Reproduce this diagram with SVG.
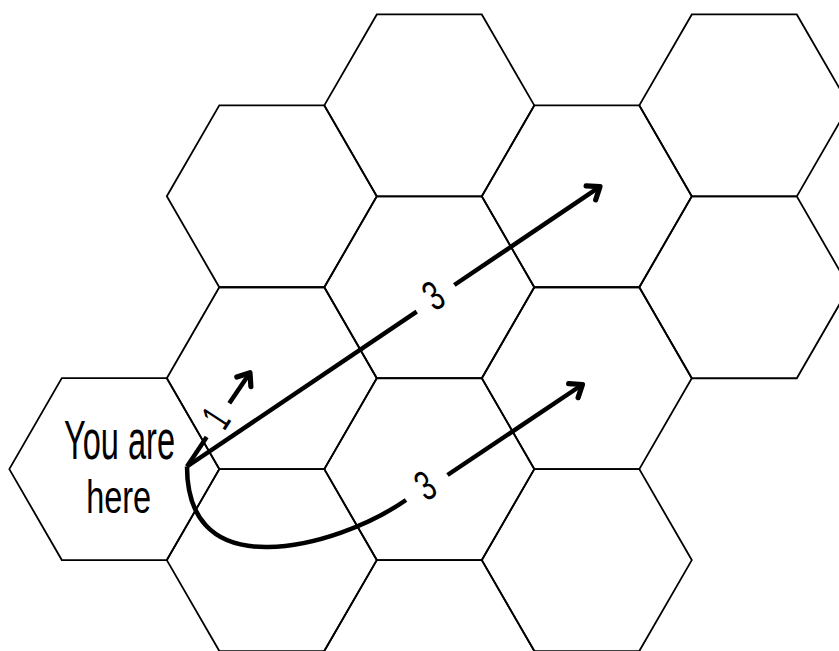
<svg xmlns="http://www.w3.org/2000/svg" width="839" height="651" viewBox="0 0 839 651">
<style>
.hex{fill:none;stroke:#000;stroke-width:1.8;stroke-linejoin:miter}
.arrow{fill:none;stroke:#000;stroke-width:4.5;stroke-linecap:butt}
.lbl{font-family:'Liberation Sans',Arial,sans-serif;fill:#000}
</style>
<defs>
<polygon id="hexshape" points="-105,0 -52.5,-90.93 52.5,-90.93 105,0 52.5,90.93 -52.5,90.93"/>
<marker id="head" markerUnits="userSpaceOnUse" orient="auto" markerWidth="30" markerHeight="30" viewBox="-15 -15 30 30" refX="0" refY="0" overflow="visible">
<path d="M-11,-8.5 L0,0 L-11,8.5" fill="none" stroke="#000" stroke-width="5.2" stroke-linecap="round" stroke-linejoin="round"/>
</marker>
</defs>
<rect width="839" height="651" fill="#fff"/>
<g id="hexes">
<g id="hex-here"><use href="#hexshape" class="hex" x="114.3" y="469.1"/>
<text class="lbl" x="119.5" y="459.3" font-size="55" text-anchor="middle" textLength="111" lengthAdjust="spacingAndGlyphs">You are</text>
<text class="lbl" x="118.7" y="512.7" font-size="46" text-anchor="middle" textLength="65" lengthAdjust="spacingAndGlyphs">here</text>
</g>
<g id="hex-c1-r1"><use href="#hexshape" class="hex" x="271.8" y="196.3"/></g>
<g id="hex-c1-r2"><use href="#hexshape" class="hex" x="271.8" y="378.2"/></g>
<g id="hex-c1-r3"><use href="#hexshape" class="hex" x="271.8" y="560.1"/></g>
<g id="hex-c2-r0"><use href="#hexshape" class="hex" x="429.3" y="105.4"/></g>
<g id="hex-c2-r1"><use href="#hexshape" class="hex" x="429.3" y="287.3"/></g>
<g id="hex-c2-r2"><use href="#hexshape" class="hex" x="429.3" y="469.1"/></g>
<g id="hex-c2-r3"><use href="#hexshape" class="hex" x="429.3" y="651.0"/></g>
<g id="hex-c3-r1"><use href="#hexshape" class="hex" x="586.8" y="196.3"/></g>
<g id="hex-c3-r2"><use href="#hexshape" class="hex" x="586.8" y="378.2"/></g>
<g id="hex-c3-r3"><use href="#hexshape" class="hex" x="586.8" y="560.1"/></g>
<g id="hex-c4-r0"><use href="#hexshape" class="hex" x="744.3" y="105.4"/></g>
<g id="hex-c4-r1"><use href="#hexshape" class="hex" x="744.3" y="287.3"/></g>
</g>
<g id="connectors">
<path class="arrow" d="M187,466.5 L416.7,311.7"/>
<path class="arrow" d="M454.3,285 L600,186.7" marker-end="url(#head)"/>
<text class="lbl" transform="translate(433,295) rotate(-33)" x="0" y="15" font-size="42" text-anchor="middle" textLength="16" lengthAdjust="spacingAndGlyphs">3</text>
<path class="arrow" d="M187,466.5 L206.7,437"/>
<path class="arrow" d="M229.3,403.3 L250,372.7" marker-end="url(#head)"/>
<text class="lbl" transform="translate(215.5,417.7) rotate(-57)" x="0" y="15" font-size="42" text-anchor="middle" textLength="14" lengthAdjust="spacingAndGlyphs">1</text>
<path class="arrow" d="M187,466.5 C187,515 210,548 268,547 C315,546.2 370,525 406,500"/>
<path class="arrow" d="M447.5,475 L582.5,384.5" marker-end="url(#head)"/>
<text class="lbl" transform="translate(425,485) rotate(-31)" x="0" y="15" font-size="42" text-anchor="middle" textLength="16" lengthAdjust="spacingAndGlyphs">3</text>
</g>
</svg>
